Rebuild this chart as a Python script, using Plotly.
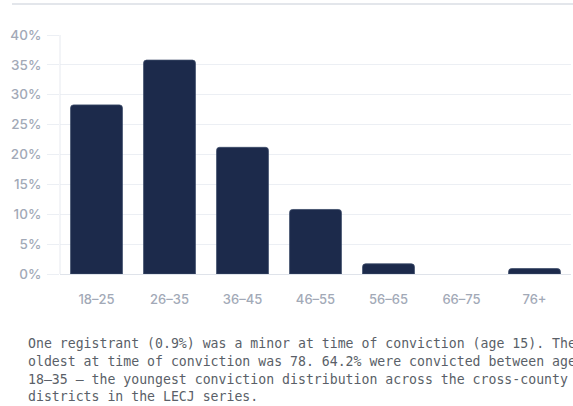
import plotly.graph_objects as go

age_groups = ["18–25", "26–35", "36–45", "46–55", "56–65", "66–75", "76+"]
share_pct = [28.3, 35.8, 21.2, 10.8, 1.7, 0.0, 0.9]
y_ticks = [0, 5, 10, 15, 20, 25, 30, 35, 40]
y_tick_labels = [f"{v}%" for v in y_ticks]

note_lines = [
    "One registrant (0.9%) was a minor at time of conviction (age 15). The",
    "oldest at time of conviction was 78. 64.2% were convicted between ages",
    "18–35 — the youngest conviction distribution across the cross-county",
    "districts in the LECJ series.",
]

W, H = 573, 406
left, right = 60, 571
top, bottom = 35, 274

GRID = "#eceff4"
TICK_COL = "#a2a9b7"


def px_x(x):
    return (x - left) / (right - left)


def px_y(y):
    return (bottom - y) / (bottom - top)


fig = go.Figure(go.Bar(
    x=age_groups,
    y=share_pct,
    marker=dict(color="#1c2a4b",
                line=dict(color="#3b4a68", width=[0.8 if v > 0 else 0 for v in share_pct])),
    hoverinfo="skip",
))

fig.update_layout(
    width=W, height=H,
    margin=dict(l=left, r=W - right, t=top, b=H - bottom),
    paper_bgcolor="white",
    plot_bgcolor="white",
    showlegend=False,
    bargap=0.29,
    barcornerradius=3,
    font=dict(family="Inter, Noto Sans, sans-serif", color=TICK_COL, size=13),
)

fig.update_yaxes(
    range=[0, 40],
    tickvals=y_ticks,
    ticktext=y_tick_labels,
    showgrid=True, gridcolor=GRID, gridwidth=1,
    zeroline=False,
    showline=False,
    ticks="outside", ticklen=12, tickcolor=GRID, tickwidth=1,
    ticklabelstandoff=3,
    tickfont=dict(size=13.5, color=TICK_COL, weight=500),
)
fig.update_xaxes(
    showgrid=False,
    showline=True, linecolor="#dfe3ea", linewidth=1,
    ticks="", ticklabelstandoff=13,
    tickfont=dict(size=13, color=TICK_COL, weight=500),
)

# left vertical axis line
fig.add_shape(type="line", xref="paper", yref="paper", x0=0, x1=0, y0=0, y1=1,
              line=dict(color="#e6e9ef", width=1))
# top divider
fig.add_shape(type="line", xref="paper", yref="paper",
              x0=px_x(12), x1=px_x(W + 2), y0=px_y(4), y1=px_y(4),
              line=dict(color="#e3e6eb", width=2))

line_y = [343, 361, 379, 397]
for txt, yp in zip(note_lines, line_y):
    fig.add_annotation(
        text=txt, xref="paper", yref="paper",
        x=px_x(26), y=px_y(yp),
        xanchor="left", yanchor="middle", showarrow=False,
        font=dict(family="DejaVu Sans Mono, monospace", size=13.2, color="#5a5f68"),
    )

# drop the default 8px page margin so the figure sits at the window's corner
fig.write_html("out.html", config={"displayModeBar": False},
               post_script="document.body.style.margin='0';")
